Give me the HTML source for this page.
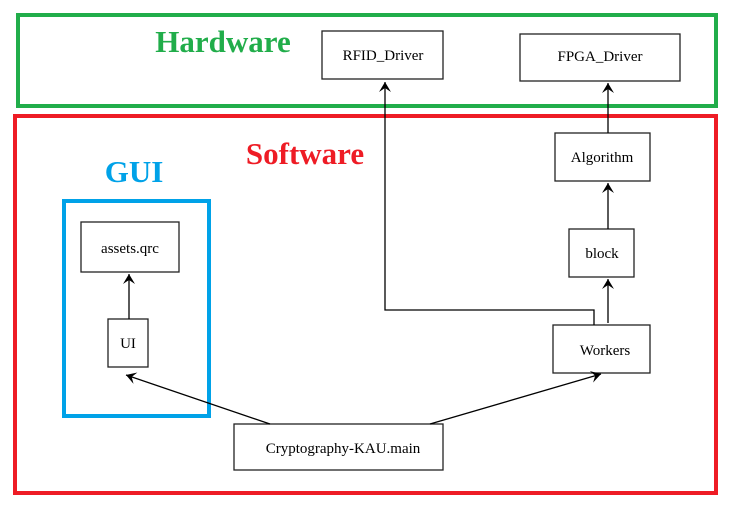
<!DOCTYPE html>
<html><head><style>
body{margin:0;background:#fff;}
</style></head><body>
<svg width="744" height="511" xmlns="http://www.w3.org/2000/svg" font-family="Liberation Serif, serif">
<defs><marker id="a" markerWidth="12" markerHeight="12" refX="10" refY="6" orient="auto" markerUnits="userSpaceOnUse"><path d="M0,0 L10,6 L0,12 L4,6 Z" fill="#000"/></marker></defs>
<rect x="18" y="15" width="698" height="91" fill="none" stroke="#21ad4a" stroke-width="4"/>
<rect x="15" y="116" width="701" height="377" fill="none" stroke="#ee1c25" stroke-width="4"/>
<rect x="64" y="201" width="145" height="215" fill="none" stroke="#00a2e8" stroke-width="4"/>
<text x="223" y="52" font-size="31" font-weight="bold" fill="#21ad4a" text-anchor="middle">Hardware</text>
<text x="305" y="164" font-size="31" font-weight="bold" fill="#ee1c25" text-anchor="middle">Software</text>
<text x="134" y="182" font-size="31" font-weight="bold" fill="#00a2e8" text-anchor="middle">GUI</text>
<g fill="#fff" stroke="#222" stroke-width="1.3">
<rect x="327" y="45" width="0" height="0"/>
<rect x="322" y="31" width="121" height="48"/>
<rect x="520" y="34" width="160" height="47"/>
<rect x="555" y="133" width="95" height="48"/>
<rect x="569" y="229" width="65" height="48"/>
<rect x="553" y="325" width="97" height="48"/>
<rect x="81" y="222" width="98" height="50"/>
<rect x="108" y="319" width="40" height="48"/>
<rect x="234" y="424" width="209" height="46"/>
</g>
<g font-size="15" fill="#000" text-anchor="middle">
<text x="383" y="60">RFID_Driver</text>
<text x="600" y="61">FPGA_Driver</text>
<text x="602" y="162">Algorithm</text>
<text x="602" y="258">block</text>
<text x="605" y="355">Workers</text>
<text x="130" y="253">assets.qrc</text>
<text x="128" y="348">UI</text>
<text x="343" y="453">Cryptography-KAU.main</text>
</g>
<g stroke="#000" stroke-width="1.3" fill="none">
<polyline points="594,325 594,310 385,310 385,82" marker-end="url(#a)"/>
<line x1="608" y1="323" x2="608" y2="279" marker-end="url(#a)"/>
<line x1="608" y1="229" x2="608" y2="183" marker-end="url(#a)"/>
<line x1="608" y1="133" x2="608" y2="83" marker-end="url(#a)"/>
<line x1="129" y1="319" x2="129" y2="274" marker-end="url(#a)"/>
<line x1="270" y1="424" x2="126" y2="375" marker-end="url(#a)"/>
<line x1="430" y1="424" x2="601" y2="374" marker-end="url(#a)"/>
</g>
</svg>
</body></html>
